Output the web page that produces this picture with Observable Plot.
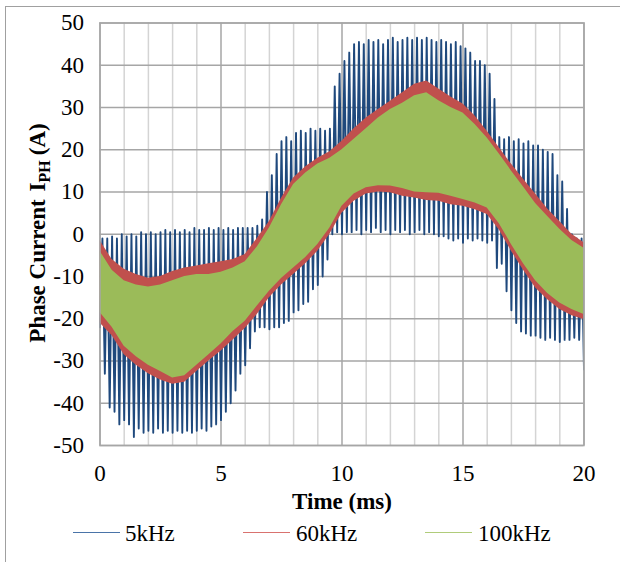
<!DOCTYPE html>
<html><head><meta charset="utf-8">
<script src="https://cdn.jsdelivr.net/npm/d3@7"></script>
<script src="https://cdn.jsdelivr.net/npm/@observablehq/plot@0.6"></script>
<style>
body{margin:0;background:#fff;}
#wrap{position:relative;width:620px;height:562px;overflow:hidden;background:#fff;}
#wrap, #wrap *{font-family:'Liberation Serif','Times New Roman',serif;}
#border{position:absolute;left:5px;top:6px;width:700px;height:700px;border-left:1px solid #a0a0a0;border-top:1px solid #a0a0a0;}
#chart{position:absolute;left:0;top:0;}
.lg{position:absolute;top:521px;font-size:23px;line-height:26px;color:#000;white-space:nowrap;}
.lgline{position:absolute;top:532px;height:1.2px;}
</style></head>
<body>
<div id="wrap">
  <div id="border"></div>
  <div id="chart"></div>
</div>
<script>
// ---- data ----
const seriesNames = ["5kHz", "60kHz", "100kHz"];
const seriesColors = ["#1f497d", "#c0504d", "#9bbb59"];
const legendColors = ["#4a74a8", "#d9726f", "#b0cc7a"];
const xTicks = [0, 5, 10, 15, 20];
const xMinor = [1,2,3,4,6,7,8,9,11,12,13,14,16,17,18,19];
const yTicks = [-50, -40, -30, -20, -10, 0, 10, 20, 30, 40, 50];

// 5 kHz: one switching period every 0.2 ms; trough and peak of each period
const dt5 = 0.2;
const lo5 = [-22,-33,-41,-42,-45,-44,-45,-48,-46,-47,
  -46.5,-47,-46,-47,-46.5,-47,-46.5,-47,-46.5,-47,
  -46.5,-46,-46.5,-45.5,-45,-44,-42,-40,-37,-33,
  -31,-27,-23,-22,-22,-22.5,-22,-22,-21,-20.5,
  -18.5,-18,-16.5,-16,-13,-12,-10,-6,0,0.5,
  0,0.5,
  0.5,1,0,1,0.5,1.5,0.5,1,0,1,0.5,1,0,0.5,1,0,0.5,0,-0.5,
  -0.5,-1,-1.5,-1,-2,-1,-1.5,-1,-1.5,-2,-1.5,
  -8,-7,-13.5,-18,-21,-23,-23.5,-24,-24,
  -24.5,-25,-24.5,-25,-25.5,-25,-25,-24.5,-25,
  -32];
const hi5 = [-1,-1,-0.5,-1,0,-0.5,0,-0.5,0.5,0,
  0.5,0,0.5,1,0.5,1,0.5,1,0.5,1.5,
  1,1,1.5,1,1.5,1,1.5,1,1.5,1.5,
  1.5,1.5,2,3.5,10,14,19,22,23,22,
  24,24.5,24,25,24.5,25,24.5,25,35,38,
  41,43,45,45.5,45,46,45.5,46,45,46,
  46.5,45.5,46,46.5,46,46.5,46,46.5,46,45.5,
  46,45.5,45,45.5,44.5,44,43,41,41,40,
  38,32,23,22.5,23,22,22.5,21.5,22,21,
  21,20,19.5,19,14,12.5,6,0,-1,-1,
  -1];

// 60 kHz and 100 kHz ripple bands (envelopes)
const tBand = [0,0.5,1,1.5,2,2.5,3,3.5,4,4.5,5,5.5,6,6.5,7,7.5,8,8.5,9,9.5,10,
  10.5,11,11.5,12,12.5,13,13.5,14,14.5,15,15.5,16,16.5,17,17.5,18,18.5,19,19.5,20];
const redHi = [-1.5,-6,-8.3,-9.5,-10.4,-10,-8.8,-8,-7.5,-7,-6.5,-6,-4.8,-1,3,8.5,13.3,16,18,19.5,22,
  25,27.5,29.5,31.5,33.5,35.5,36.3,34.4,32.5,30.8,28,24.4,20.5,16.6,13,9.5,6,3,0,-2];
const redLo = [-21,-24,-28.5,-31,-33,-34.5,-35.5,-35,-32.5,-30,-27.7,-25,-22.3,-19,-15,-12,-9.5,-7,-4,0,5,
  7.8,9.5,10,9.8,9,8.6,8,7.8,7,6.6,5.8,4.7,1,-4,-8.5,-12.7,-15.5,-17.8,-19.3,-20.2];
const grnHi = [-4,-8.5,-11,-12,-12.5,-12,-11,-10,-9.5,-9.5,-9,-8,-6.5,-3,1.5,7,11.8,14.5,16.6,18,20,
  22.5,25,27.5,29.5,31,32.8,33.5,31.6,30,28.7,26,22.8,19,15,11.2,7.3,4.2,1.2,-1.5,-3.3];
const grnLo = [-18.5,-22,-26.5,-29,-31,-32.5,-34,-33.5,-31,-28.5,-26,-23,-20.6,-17,-13.5,-10.5,-8,-5.5,-2.4,1.5,6.6,
  9.5,11,11.5,11.4,10.8,10,9.8,9.7,9,8.2,7.4,6.2,2.5,-2.4,-7,-11,-14,-16.3,-17.8,-19];

const FONT = "'Liberation Serif', 'Times New Roman', serif";

// ---- build tables ----
const pts5 = [];
lo5.forEach((v, i) => {
  pts5.push({t: i * dt5, v: v});
  pts5.push({t: i * dt5 + dt5 / 2, v: hi5[i]});
});
const bands = tBand.map((t, i) => ({t, redHi: redHi[i], redLo: redLo[i], grnHi: grnHi[i], grnLo: grnLo[i]}));

const fmt = d => String(d);

const chart = Plot.plot({
  width: 620, height: 522,
  marginLeft: 99.5, marginRight: 36.5, marginTop: 22.5, marginBottom: 77,
  x: {domain: [0, 20]},
  y: {domain: [-50, 50]},
  style: {fontFamily: FONT, fontSize: "23px", color: "#000", background: "transparent", overflow: "visible"},
  marks: [
    Plot.gridX(xMinor, {stroke: "#d4d4d4", strokeOpacity: 1, strokeWidth: 1.5}),
    Plot.gridX(xTicks, {stroke: "#a6a6a6", strokeOpacity: 1, strokeWidth: 1.5}),
    Plot.gridY(yTicks, {stroke: "#a6a6a6", strokeOpacity: 1, strokeWidth: 1.5}),
    Plot.line(pts5, {x: "t", y: "v", stroke: seriesColors[0], strokeWidth: 1.9, clip: true}),
    Plot.areaY(bands, {x: "t", y1: "redLo", y2: "redHi", fill: seriesColors[1], clip: true}),
    Plot.areaY(bands, {x: "t", y1: "grnLo", y2: "grnHi", fill: seriesColors[2], clip: true}),
    Plot.frame({stroke: "#a6a6a6", strokeWidth: 1.5}),
    Plot.axisX(xTicks, {tickSize: 0, tickPadding: 19, tickFormat: fmt, label: null, fontSize: 23}),
    Plot.axisY(yTicks, {tickSize: 0, tickPadding: 16, tickFormat: fmt, label: null, fontSize: 23}),
    Plot.text(["Time (ms)"], {frameAnchor: "bottom", dy: 63, fontWeight: "bold", fontSize: 23})
  ]
});
document.getElementById("chart").appendChild(chart);

// y-axis title with subscript
const yt = d3.select(chart).append("text")
  .attr("transform", "translate(37,233) rotate(-90)")
  .attr("text-anchor", "middle")
  .attr("dy", "0.35em")
  .attr("font-weight", "bold")
  .attr("font-size", 23)
  .attr("fill", "#000");
yt.append("tspan").text("Phase Current");
yt.append("tspan").attr("dx", 8).text("I");
yt.append("tspan").attr("font-size", 16).attr("dy", 5).text("PH");
yt.append("tspan").attr("dy", -5).attr("dx", 5).text("(A)");

// legend
const wrap = document.getElementById("wrap");
const lgPos = [[73, 120, 125], [243, 290, 296], [425, 472, 478]];
seriesNames.forEach((name, i) => {
  const ln = document.createElement("div");
  ln.className = "lgline";
  ln.style.left = lgPos[i][0] + "px";
  ln.style.width = (lgPos[i][1] - lgPos[i][0]) + "px";
  ln.style.backgroundColor = legendColors[i];
  wrap.appendChild(ln);
  const tx = document.createElement("div");
  tx.className = "lg";
  tx.style.left = lgPos[i][2] + "px";
  tx.textContent = name;
  wrap.appendChild(tx);
});
</script>
</body></html>
